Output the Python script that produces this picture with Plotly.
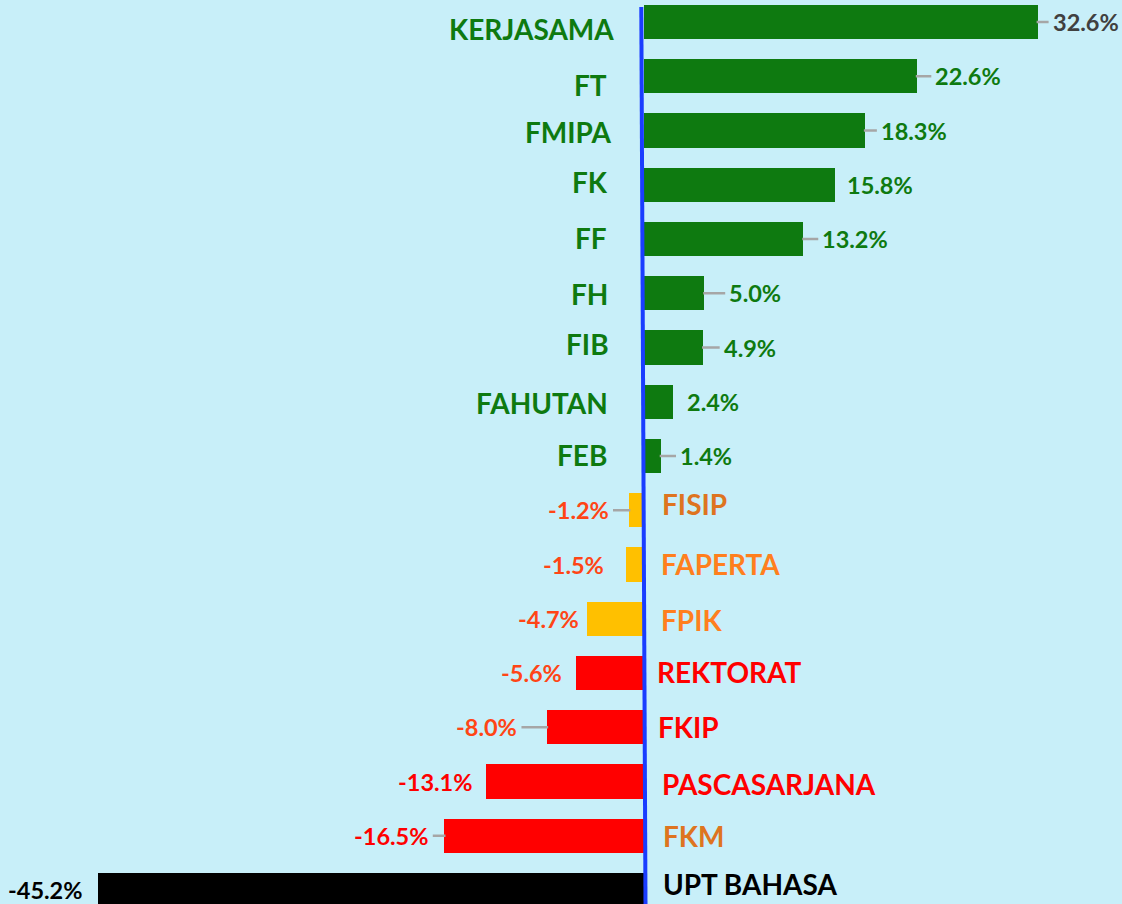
import plotly.graph_objects as go

categories = ["KERJASAMA", "FT", "FMIPA", "FK", "FF", "FH", "FIB", "FAHUTAN", "FEB",
              "FISIP", "FAPERTA", "FPIK", "REKTORAT", "FKIP", "PASCASARJANA", "FKM", "UPT BAHASA"]
values = [32.6, 22.6, 18.3, 15.8, 13.2, 5.0, 4.9, 2.4, 1.4,
          -1.2, -1.5, -4.7, -5.6, -8.0, -13.1, -16.5, -45.2]
value_labels = ["32.6%", "22.6%", "18.3%", "15.8%", "13.2%", "5.0%", "4.9%", "2.4%", "1.4%",
                "-1.2%", "-1.5%", "-4.7%", "-5.6%", "-8.0%", "-13.1%", "-16.5%", "-45.2%"]

# styles
GREEN = "#0E7A10"
YELLOW = "#FFC000"
RED = "#FF0000"
BLACK = "#000000"
ORANGE_RED = "#FF4516"
ORANGE = "#FF7F1E"
DARK_ORANGE = "#DE7420"
bar_colors = [GREEN] * 9 + [YELLOW] * 3 + [RED] * 4 + [BLACK]
cat_colors = [GREEN] * 9 + [DARK_ORANGE, ORANGE, ORANGE, RED, RED, RED, DARK_ORANGE, BLACK]
val_colors = ["#404040"] + [GREEN] * 8 + [ORANGE_RED] * 5 + [RED, RED, BLACK]
# label placement tweaks (pixels)
label_gap = [15, 18.5, 16, 12.5, 19, 25, 20.7, 14.7, 19.3,
             20.3, 21.7, 7.7, 14, 29.7, 12.3, 15.7, 14.7]
leader = [1, 1, 1, 0, 1, 1, 1, 0, 1, 1, 0, 0, 0, 1, 0, 1, 0]
cat_dy = [5.6, 8, 0, -3.5, -1.6, 0, -5, 0, -2,
          -7, -1.5, 0, -2.4, -1.5, 1.5, -1, -7]
cat_dx = [-28, -35.3, -30, -34.3, -35.3, -34.3, -33, -34, -35.3,
          16.5, 15, 15, 11.5, 12.5, 16, 17, 17]

W, H = 1122, 904
zero_px = 643.8
px_per_unit = 12.08
row_px = 54.25
first_row_px = 22

x_range = [-zero_px / px_per_unit, (W - zero_px) / px_per_unit]
y_range = [(H - first_row_px) / row_px, -first_row_px / row_px]

FONT = "Lato"

fig = go.Figure(go.Bar(
    x=values, y=categories, orientation="h",
    marker=dict(color=bar_colors, line=dict(width=0)),
    width=0.63, hoverinfo="skip",
))

annotations = []
shapes = []
for i, (c, v, t) in enumerate(zip(categories, values, value_labels)):
    pos = v >= 0
    # category label on the opposite side of the zero line
    annotations.append(dict(
        x=0, y=c, xref="x", yref="y", text=c, showarrow=False,
        xanchor="right" if pos else "left",
        xshift=cat_dx[i],
        yshift=-cat_dy[i] - 1,
        font=dict(family=FONT, size=28, color=cat_colors[i], weight=700),
    ))
    g = label_gap[i] - 2
    annotations.append(dict(
        x=v, y=c, xref="x", yref="y", text=t, showarrow=False,
        xanchor="left" if pos else "right",
        xshift=g if pos else -g,
        font=dict(family=FONT, size=23.5, color=val_colors[i], weight=700),
    ))
    if leader[i]:
        s = 1 if pos else -1
        shapes.append(dict(
            type="line", xref="x", yref="y", xsizemode="pixel", xanchor=v,
            x0=-1 * s, x1=s * (label_gap[i] - 4), y0=i, y1=i,
            line=dict(color="#A6A6A6", width=2.5),
        ))

# zero line (blue)
shapes.append(dict(
    type="line", xref="x", yref="paper", xsizemode="pixel", xanchor=0,
    x0=1.7, x1=-2.5, y0=0, y1=1 - 7 / H,
    line=dict(color="#1A3DFF", width=4),
))

fig.update_layout(
    width=W, height=H,
    margin=dict(l=0, r=0, t=0, b=0),
    paper_bgcolor="#C8EFF9", plot_bgcolor="#C8EFF9",
    showlegend=False,
    xaxis=dict(range=x_range, visible=False, fixedrange=True),
    yaxis=dict(range=y_range, visible=False, categoryorder="array",
               categoryarray=categories, fixedrange=True),
    annotations=annotations, shapes=shapes,
    bargap=0,
)

fig.write_html(
    "out.html",
    config={"displayModeBar": False},
    post_script="document.body.style.margin='0';document.body.style.overflow='hidden';",
)
